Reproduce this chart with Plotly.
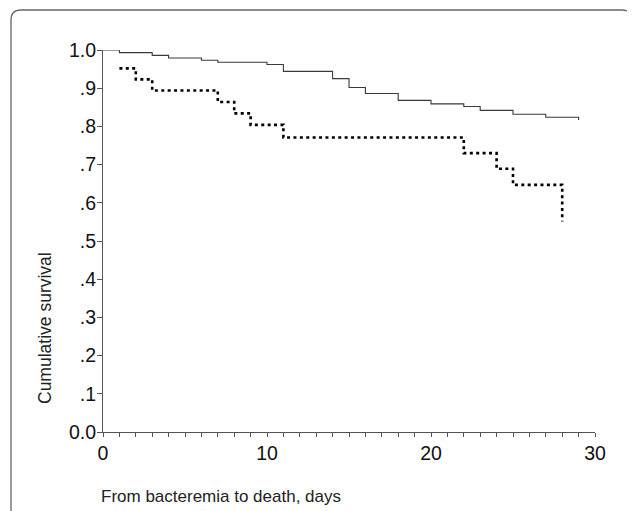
import plotly.graph_objects as go

# Kaplan-Meier step data
solid_days = [0, 1, 3, 4, 6, 7, 10, 11, 14, 15, 16, 18, 20, 22, 23, 25, 27, 29]
solid_surv = [1.0, 0.993, 0.986, 0.979, 0.973, 0.968, 0.962, 0.944, 0.925, 0.902,
              0.886, 0.868, 0.859, 0.852, 0.842, 0.832, 0.824, 0.817]

dotted_days = [1, 2, 3, 7, 8, 9, 11, 22, 24, 25, 28]
dotted_surv = [0.952, 0.923, 0.894, 0.864, 0.834, 0.804, 0.771, 0.730, 0.689, 0.647, 0.551]

x_tick_vals = list(range(0, 31))
x_tick_text = [str(v) if v % 10 == 0 else "" for v in x_tick_vals]
y_tick_vals = [0.0, 0.1, 0.2, 0.3, 0.4, 0.5, 0.6, 0.7, 0.8, 0.9, 1.0]
y_tick_text = ["0.0", ".1", ".2", ".3", ".4", ".5", ".6", ".7", ".8", ".9", "1.0"]

OFF = 8  # page body margin offset
W, H = 635, 511
L, T = 103 - OFF, 50 - OFF
R = W - (595 - OFF)
B = H - (432 - OFF)
pw, ph = W - L - R, H - T - B


def px(xp):
    # page pixel x -> paper coordinate
    return (xp - OFF - L) / pw


def py(yp):
    # page pixel y -> paper coordinate
    return (H - B - (yp - OFF)) / ph


fig = go.Figure()
fig.add_trace(go.Scatter(x=solid_days, y=solid_surv, mode="lines", line_shape="hv",
                         line=dict(color="#3a3a3a", width=1.1), cliponaxis=False,
                         showlegend=False, hoverinfo="skip"))
fig.add_trace(go.Scatter(x=dotted_days, y=dotted_surv, mode="lines", line_shape="hv",
                         line=dict(color="#000000", width=2.6, dash="3px,3.4px"),
                         cliponaxis=False, showlegend=False, hoverinfo="skip"))

# rounded outer frame
lx, rx_, ty, by = px(11), px(632), py(10), py(530)
rx, ry = 10 / pw, 10 / ph
path = (f"M {lx},{by} L {lx},{ty - ry} Q {lx},{ty} {lx + rx},{ty} "
        f"L {rx_ - rx},{ty} Q {rx_},{ty} {rx_},{ty - ry} L {rx_},{by}")
fig.add_shape(type="path", path=path, xref="paper", yref="paper",
              line=dict(color="#666666", width=1.3))

fig.add_annotation(text="Cumulative survival", x=px(45), y=py(328), xref="paper", yref="paper",
                   textangle=-90, showarrow=False, xanchor="center", yanchor="middle",
                   font=dict(family="Liberation Sans, Arial", size=17.5, color="#222222"))
fig.add_annotation(text="From bacteremia to death, days", x=px(99), y=py(496), xref="paper",
                   yref="paper", showarrow=False, xanchor="left", yanchor="middle",
                   font=dict(family="Liberation Sans, Arial", size=17, color="#222222"))

fig.update_layout(
    width=W, height=H,
    margin=dict(l=L, r=R, t=T, b=B),
    paper_bgcolor="white", plot_bgcolor="white",
    font=dict(family="Liberation Sans, Arial", size=19.5, color="#111111"),
    xaxis=dict(range=[0, 30], tickvals=x_tick_vals, ticktext=x_tick_text, ticks="outside",
               ticklen=4, tickwidth=1, tickcolor="#555555", showline=True, linecolor="#555555",
               linewidth=1, showgrid=False, zeroline=False, fixedrange=True),
    yaxis=dict(range=[0, 1.0], tickvals=y_tick_vals, ticktext=y_tick_text, ticks="outside",
               ticklen=5, tickwidth=1, tickcolor="#555555", showline=True, linecolor="#555555",
               linewidth=1, showgrid=False, zeroline=False, fixedrange=True,
               ticklabelstandoff=-3),
)

fig.write_html("out.html")
